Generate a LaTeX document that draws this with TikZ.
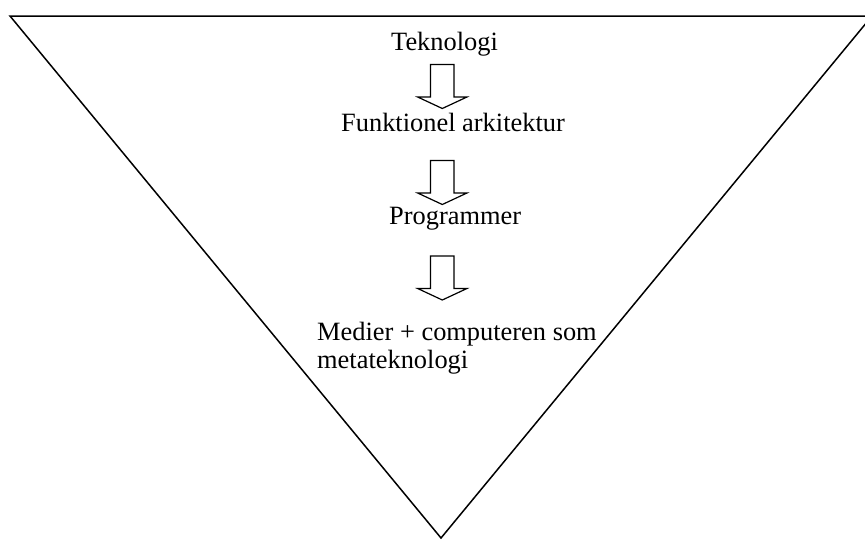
\documentclass[tikz,border=0pt]{standalone}
\usepackage{fontspec}
\setmainfont{Liberation Serif}
\begin{document}
\begin{tikzpicture}[x=1pt,y=-1pt,
  txt/.style={inner sep=0pt, font=\fontsize{26.4}{28.5}\selectfont},
  frame/.style={line width=1.5pt, line join=miter},
  blockarrow/.style={draw, line width=1.2pt, fill=white, line join=miter}]
\useasboundingbox (0,0) rectangle (865,541);
% hollow block arrow pointing down, hanging from a named coordinate
\newcommand{\blockdown}[1]{%
  \draw[blockarrow] (#1) ++(-11.75,0) -- ++(0,32.5) -- ++(-12.9,0)
    -- ++(24.65,11.5) -- ++(24.65,-11.5) -- ++(-12.9,0) -- ++(0,-32.5) -- cycle;}
% inverted triangle
\begin{scope}
  \clip (0,0) rectangle (865,541);
  \coordinate (tl) at (10,16);
  \coordinate (tr) at (872,16);
  \coordinate (apex) at (441,538);
  \draw[frame] (tl) -- (tr) -- (apex) -- cycle;
\end{scope}
% levels
\node[txt, anchor=base west] (tek) at (391,50) {Teknologi};
\node[txt, anchor=base west] (fun) at (341,131) {Funktionel arkitektur};
\node[txt, anchor=base west] (prg) at (389,224) {Programmer};
% two-line label: base anchor sits on the last line
\node[txt, anchor=base west, align=left] (med) at (317,368.5) {Medier + computeren som\\metateknologi};
% arrows between levels
\coordinate (a1) at (442.3,64.5);
\coordinate (a2) at (442.3,160.5);
\coordinate (a3) at (442.3,256);
\blockdown{a1}
\blockdown{a2}
\blockdown{a3}
\end{tikzpicture}
\end{document}
